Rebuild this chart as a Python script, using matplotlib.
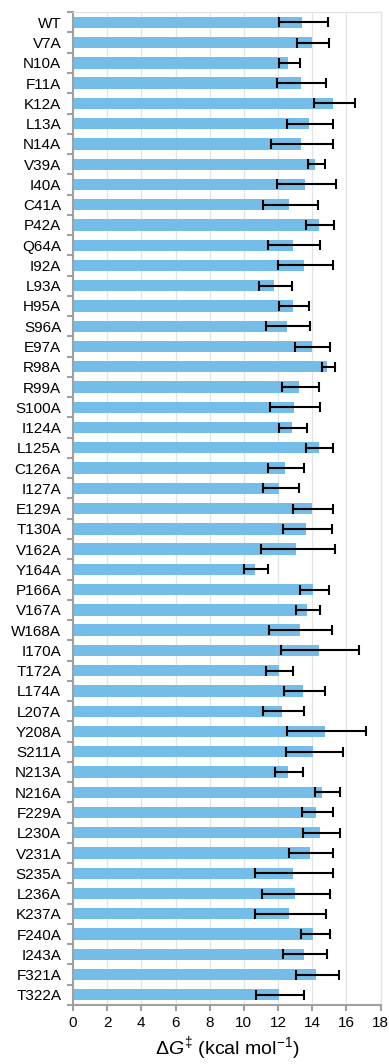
import numpy as np
import matplotlib
matplotlib.use("Agg")
import matplotlib.pyplot as plt

plt.rcParams['font.family'] = ['Liberation Sans', 'DejaVu Sans']
plt.rcParams['mathtext.fontset'] = 'custom'
plt.rcParams['mathtext.rm'] = 'Liberation Sans'
plt.rcParams['mathtext.it'] = 'Liberation Sans:italic'

mutants = ["WT", "V7A", "N10A", "F11A", "K12A", "L13A", "N14A", "V39A", "I40A",
           "C41A", "P42A", "Q64A", "I92A", "L93A", "H95A", "S96A", "E97A", "R98A",
           "R99A", "S100A", "I124A", "L125A", "C126A", "I127A", "E129A", "T130A",
           "V162A", "Y164A", "P166A", "V167A", "W168A", "I170A", "T172A", "L174A",
           "L207A", "Y208A", "S211A", "N213A", "N216A", "F229A", "L230A", "V231A",
           "S235A", "L236A", "K237A", "F240A", "I243A", "F321A", "T322A"]

dG = [13.41, 14.0, 12.59, 13.33, 15.2, 13.8, 13.35, 14.17, 13.57,
      12.65, 14.39, 12.87, 13.53, 11.77, 12.87, 12.51, 13.98, 14.85,
      13.2, 12.94, 12.81, 14.39, 12.4, 12.07, 13.96, 13.61,
      13.08, 10.64, 14.05, 13.68, 13.26, 14.41, 12.03, 13.47,
      12.24, 14.74, 14.07, 12.57, 14.56, 14.23, 14.46, 13.88,
      12.87, 12.98, 12.67, 14.07, 13.53, 14.21, 12.05]

err_low = [12.05, 13.14, 12.07, 11.95, 14.11, 12.5, 11.6, 13.74, 11.95,
           11.11, 13.65, 11.4, 11.97, 10.9, 12.07, 11.29, 13.02, 14.56,
           12.22, 11.52, 12.05, 13.65, 11.42, 11.11, 12.87, 12.28,
           10.99, 10.02, 13.29, 13.06, 11.5, 12.18, 11.29, 12.34,
           11.15, 12.51, 12.49, 11.85, 14.17, 13.43, 13.47, 12.67,
           10.64, 11.07, 10.68, 13.35, 12.32, 13.04, 10.74]

err_high = [14.93, 14.99, 13.26, 14.83, 16.49, 15.24, 15.24, 14.76, 15.38,
            14.33, 15.26, 14.48, 15.24, 12.83, 13.8, 13.88, 15.07, 15.36,
            14.39, 14.48, 13.68, 15.24, 13.53, 13.2, 15.19, 15.15,
            15.32, 11.42, 14.97, 14.48, 15.17, 16.76, 12.9, 14.74,
            13.51, 17.17, 15.79, 13.45, 15.63, 15.2, 15.63, 15.2,
            15.2, 15.05, 14.8, 15.05, 14.85, 15.56, 13.53]

dG = np.array(dG)
xerr = [dG - np.array(err_low), np.array(err_high) - dG]
y = np.arange(len(mutants))

fig = plt.figure(figsize=(3.89, 10.64), dpi=100)
ax = fig.add_axes([0.1877, 0.0555, 0.7905, 0.933])

ax.barh(y, dG, height=0.56, color='#74bde8', zorder=2)
ax.errorbar(dG, y, xerr=xerr, fmt='none', ecolor='black', elinewidth=1.5,
            capsize=3.3, capthick=1.5, zorder=3)

ax.set_xlim(0, 18)
ax.set_ylim(len(mutants) - 0.5, -0.5)
ax.set_xticks(np.arange(0, 19, 2))
ax.set_yticks(y)
ax.set_yticklabels(mutants)
ax.set_yticks(np.arange(-0.5, len(mutants), 1), minor=True)
ax.tick_params(axis='y', which='major', length=0, labelsize=11, pad=8.5)
ax.tick_params(axis='y', which='minor', length=4, width=1.5, color='#a0a0a0')
ax.tick_params(axis='x', which='major', length=4, width=1.5, color='#a0a0a0',
               labelsize=11, pad=4)
ax.grid(axis='x', color='#e3e3e3', linewidth=0.9, zorder=0)
ax.set_axisbelow(True)

for s in ['left', 'bottom']:
    ax.spines[s].set_color('#a0a0a0')
    ax.spines[s].set_linewidth(1.5)
for s in ['top', 'right']:
    ax.spines[s].set_color('#e3e3e3')
    ax.spines[s].set_linewidth(0.9)

ax.set_xlabel(r'$\Delta G^{\ddagger}$ (kcal mol$^{-1}$)', fontsize=14, labelpad=3)

plt.savefig("out.png", dpi=100)
